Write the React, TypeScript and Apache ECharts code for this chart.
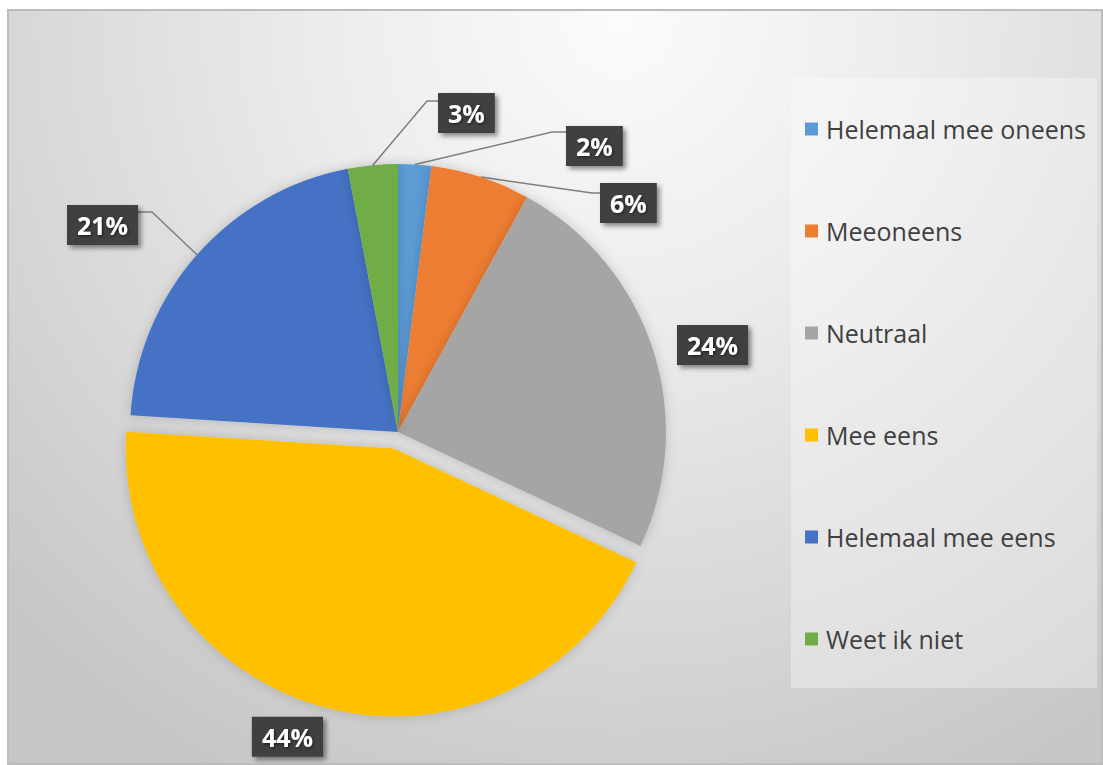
import React, { useEffect, useRef } from "react";
import * as echarts from "echarts";

// ---- data ----
const categories = [
  "Helemaal mee oneens",
  "Meeoneens",
  "Neutraal",
  "Mee eens",
  "Helemaal mee eens",
  "Weet ik niet",
];
const values = [2, 6, 24, 44, 21, 3];
const colors = ["#5B9BD5", "#ED7D31", "#A5A5A5", "#FFC000", "#4472C4", "#70AD47"];
const explodedIndex = 3;

// ---- label placement (box top-left, leader line bend and end) ----
const labelBoxes: { x: number; y: number; line: number[][] | null }[] = [
  { x: 566, y: 126, line: [[552, 132], [566, 132]] },
  { x: 600, y: 183, line: [[592, 193], [600, 193]] },
  { x: 677, y: 325, line: null },
  { x: 253, y: 717, line: null },
  { x: 67, y: 205, line: [[152, 212], [138, 212]] },
  { x: 438, y: 93, line: [[427, 101], [438, 101]] },
];
// the exploded slice keeps ECharts' own label anchor (selected state), steered by its line lengths
const explodedLabelLine = { length: 9, length2: 68 };

export default function App() {
  const ref = useRef<HTMLDivElement>(null);
  useEffect(() => {
    document.body.style.margin = "0";
    if (!ref.current) return;
    const chart = echarts.init(ref.current, undefined, { renderer: "svg" });
    const data = categories.map((name, i) => ({
      name,
      value: values[i],
      selected: i === explodedIndex,
      itemStyle: { color: colors[i] },
      labelLine:
        i === explodedIndex
          ? { show: false, ...explodedLabelLine }
          : { show: labelBoxes[i].line !== null },
    }));
    chart.setOption({
      animation: false,
      graphic: [
        {
          type: "rect",
          z: -10,
          shape: { x: 8, y: 10, width: 1094, height: 754 },
          style: {
            fill: new echarts.graphic.RadialGradient(
              620,
              20,
              850,
              [
                { offset: 0, color: "#fbfbfb" },
                { offset: 0.35, color: "#ececec" },
                { offset: 0.7, color: "#d8d8d8" },
                { offset: 1, color: "#c6c6c6" },
              ],
              true
            ),
            stroke: "#bcbcbc",
            lineWidth: 2,
          },
        },
        {
          type: "rect",
          z: -9,
          shape: { x: 791, y: 78, width: 306, height: 610 },
          style: { fill: "rgba(255,255,255,0.32)" },
        },
      ],
      legend: {
        orient: "vertical",
        left: 805,
        top: 116,
        padding: 0,
        itemGap: 76,
        itemWidth: 13,
        itemHeight: 13,
        icon: "rect",
        data: categories,
        selectedMode: false,
        textStyle: {
          fontFamily: "Open Sans",
          fontSize: 25,
          lineHeight: 26,
          color: "#404040",
          padding: [0, 0, 0, 3],
        },
      },
      series: [
        {
          type: "pie",
          center: [398, 432],
          radius: 268,
          startAngle: 90,
          clockwise: true,
          selectedMode: "single",
          selectedOffset: 17,
          emphasis: { disabled: true },
          select: { itemStyle: { borderWidth: 0 } },
          itemStyle: {
            borderWidth: 0,
            shadowBlur: 12,
            shadowColor: "rgba(0,0,0,0.18)",
          },
          label: {
            show: true,
            position: "outside",
            formatter: (p: any) => `${Math.round(p.percent)}%`,
            fontFamily: "Open Sans",
            fontWeight: "bold",
            fontSize: 25,
            lineHeight: 26,
            color: "#ffffff",
            backgroundColor: "#3f3f3f",
            padding: [7, 10],
            textShadowColor: "rgba(0,0,0,0.6)",
            textShadowBlur: 3,
            textShadowOffsetX: 1,
            textShadowOffsetY: 1,
            shadowColor: "rgba(0,0,0,0.45)",
            shadowBlur: 5,
            shadowOffsetX: 3,
            shadowOffsetY: 3,
          },
          labelLine: {
            show: true,
            lineStyle: { color: "#7f7f7f", width: 1.5 },
          },
          labelLayout: (params: any) => {
            const b = labelBoxes[params.dataIndex];
            const out: any = { x: b.x, y: b.y, align: "left", verticalAlign: "top" };
            if (b.line && params.labelLinePoints) {
              out.labelLinePoints = [params.labelLinePoints[0], b.line[0], b.line[1]];
            }
            return out;
          },
          data,
        },
      ],
    });
    return () => chart.dispose();
  }, []);
  return <div ref={ref} style={{ width: 1103, height: 765 }} />;
}
